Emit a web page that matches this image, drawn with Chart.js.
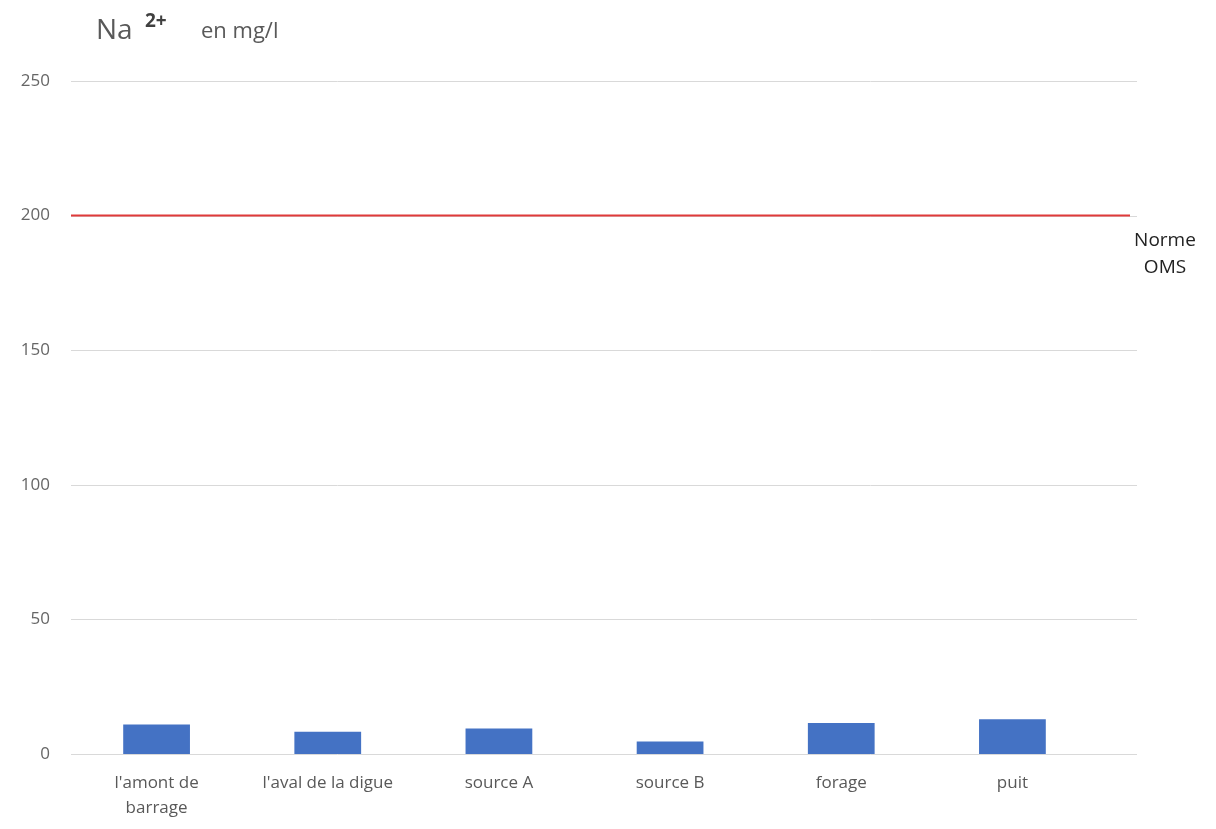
<!DOCTYPE html>
<html>
<head>
<meta charset="utf-8">
<script src="https://cdn.jsdelivr.net/npm/chart.js@4"></script>
<style>
html,body{margin:0;padding:0;background:#fff;}
#wrap{width:1216px;height:829px;position:relative;}
</style>
</head>
<body>
<div id="wrap"><canvas id="c" width="1216" height="829"></canvas></div>
<script>
const categories = [["l'amont de", "barrage"], "l'aval de la digue", "source A", "source B", "forage", "puit"];
const naValues = [11, 8.3, 9.5, 4.6, 11.5, 12.9];
const yTicks = [0, 50, 100, 150, 200, 250];
const normeOMS = 200;
const normeLabel = ["Norme", "OMS"];
const titleMain = "Na";
const titleSup = "2+";
const titleUnit = "en mg/l";

const GRID_RIGHT = 1137;
const NORM_RIGHT = 1130;

const extras = {
  id: 'extras',
  beforeDatasetsDraw(chart) {
    const {ctx, chartArea, scales} = chart;
    const y = scales.y;
    ctx.save();
    ctx.strokeStyle = '#d9d9d9';
    ctx.lineWidth = 1;
    yTicks.forEach(v => {
      const py = Math.round(y.getPixelForValue(v)) + 0.5;
      ctx.beginPath();
      ctx.moveTo(chartArea.left, py);
      ctx.lineTo(GRID_RIGHT, py);
      ctx.stroke();
    });
    ctx.restore();
  },
  afterDatasetsDraw(chart) {
    const {ctx, chartArea, scales} = chart;
    const y = scales.y;
    const py = y.getPixelForValue(normeOMS);
    ctx.save();
    ctx.strokeStyle = '#E03A3A';
    ctx.lineWidth = 2;
    ctx.beginPath();
    ctx.moveTo(chartArea.left, py);
    ctx.lineTo(NORM_RIGHT, py);
    ctx.stroke();
    ctx.fillStyle = '#222';
    ctx.font = '19px "Open Sans"';
    ctx.textAlign = 'center';
    ctx.textBaseline = 'middle';
    ctx.fillText(normeLabel[0], 1165, py + 25);
    ctx.fillText(normeLabel[1], 1165, py + 52);
    // title
    ctx.textAlign = 'left';
    ctx.textBaseline = 'alphabetic';
    ctx.fillStyle = '#595959';
    ctx.font = '28px "Open Sans"';
    ctx.fillText(titleMain, 96, 39);
    ctx.font = 'bold 19px "Open Sans"';
    ctx.fillStyle = '#404040';
    ctx.fillText(titleSup, 145, 27);
    ctx.font = '22px "Open Sans"';
    ctx.fillStyle = '#595959';
    ctx.fillText(titleUnit, 201, 38);
    ctx.restore();
  }
};

new Chart(document.getElementById('c'), {
  type: 'bar',
  data: {
    labels: categories,
    datasets: [{
      data: naValues,
      backgroundColor: '#4472C4',
      borderWidth: 0,
      categoryPercentage: 1,
      barPercentage: 0.39
    }]
  },
  options: {
    responsive: false,
    animation: false,
    devicePixelRatio: 1,
    layout: { padding: { left: 0, right: 1216 - 1098, top: 81, bottom: 0 } },
    plugins: { legend: { display: false }, tooltip: { enabled: false }, title: { display: false } },
    scales: {
      x: {
        grid: { display: false, drawTicks: false },
        border: { display: false },
        ticks: {
          color: '#595959',
          font: { family: 'Open Sans', size: 17, lineHeight: 1.5 },
          padding: 16,
          maxRotation: 0,
          autoSkip: false
        },
        afterFit(scale) { scale.height = 829 - 754; }
      },
      y: {
        min: 0,
        max: 250,
        afterBuildTicks(scale) { scale.ticks = yTicks.map(v => ({ value: v })); },
        grid: { display: false, drawTicks: false },
        border: { display: false },
        ticks: {
          color: '#666',
          font: { family: 'Open Sans', size: 17 },
          padding: 21
        },
        afterFit(scale) { scale.width = 71; }
      }
    }
  },
  plugins: [extras]
});
</script>
</body>
</html>
